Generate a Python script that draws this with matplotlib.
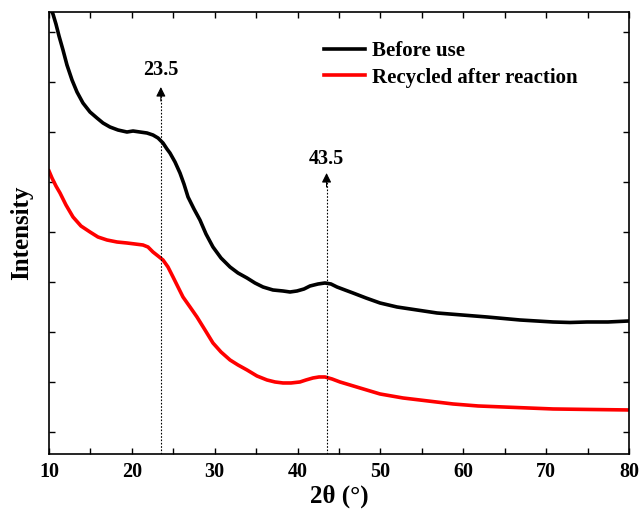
import matplotlib.pyplot as plt
from matplotlib.ticker import MultipleLocator

plt.rcParams['font.family'] = ['Liberation Serif', 'DejaVu Serif']
plt.rcParams['font.weight'] = 'bold'

# XRD patterns, intensity in arbitrary units
two_theta_before = [10.00, 10.24, 10.48, 10.84, 11.21, 11.69, 12.17, 12.78, 13.38, 14.10,
                    14.95, 15.79, 16.52, 17.36, 18.33, 19.41, 20.14, 20.98, 21.83, 22.55,
                    23.16, 23.76, 24.24, 24.60, 25.21, 25.81, 26.29, 26.78, 27.50, 28.22,
                    28.95, 29.79, 30.76, 31.85, 32.81, 33.90, 34.86, 35.83, 37.03, 38.24,
                    39.09, 39.93, 40.78, 41.50, 42.47, 43.31, 44.03, 44.76, 45.72, 46.69,
                    48.26, 49.95, 52.00, 54.41, 56.83, 59.84, 62.86, 66.84, 70.83, 72.88,
                    74.93, 77.47, 80.00]
intensity_before = [426, 422, 418, 408, 396, 382, 367, 352, 340, 329,
                    320, 314, 309, 305, 302, 300, 301, 300, 299, 297,
                    294, 289, 283, 279, 270, 259, 248, 235, 223, 212,
                    198, 185, 174, 165, 159, 154, 149, 145, 142, 141,
                    140, 141, 143, 146, 148, 149, 148, 145, 142, 139,
                    134, 129, 125, 122, 119, 117, 115, 112, 110, 109.5,
                    110, 110, 111]

two_theta_recycled = [10.00, 10.36, 10.84, 11.33, 12.05, 12.90, 13.86, 14.95, 15.91, 17.00,
                      18.21, 19.41, 20.38, 21.34, 21.95, 22.55, 23.16, 23.76, 24.36, 24.97,
                      25.57, 26.17, 27.02, 27.86, 28.83, 29.79, 30.76, 31.85, 32.81, 33.90,
                      35.10, 36.31, 37.28, 38.24, 39.21, 40.29, 41.02, 41.86, 42.59, 43.31,
                      44.16, 45.12, 46.33, 47.53, 48.74, 49.95, 52.72, 55.74, 58.76, 61.78,
                      64.79, 70.83, 75.29, 80.00]
intensity_recycled = [261, 254, 246, 239, 227, 215, 206, 200, 195, 192,
                      190, 189, 188, 187, 185, 180, 176, 172, 165, 155,
                      145, 135, 125, 115, 102, 89, 80, 72, 67, 62,
                      56, 52, 50, 49, 49, 50, 52, 54, 55, 55,
                      53, 50, 47, 44, 41, 38, 34, 31, 28, 26,
                      25, 23, 22.5, 22]

peaks = [23.5, 43.5]
peak_tips = [345, 259]
peak_labels = ['23.5', '43.5']
label_gaps = [7, 4]

fig = plt.figure(figsize=(6.43, 5.23), dpi=100)
ax = fig.add_axes([0.0762, 0.132, 0.902, 0.845])

ax.plot(two_theta_before, intensity_before, color='black', lw=2.6,
        solid_joinstyle='round', label='Before use')
ax.plot(two_theta_recycled, intensity_recycled, color='red', lw=2.6,
        solid_joinstyle='round', label='Recycled after reaction')

ymin, ymax = -22, 420
for x, tip, lab, gap in zip(peaks, peak_tips, peak_labels, label_gaps):
    ax.plot([x, x], [ymin, tip - 8], color='black', lw=0.8, ls=(0, (1.5, 1.5)))
    ax.annotate('', xy=(x, tip), xytext=(x, tip - 14),
                arrowprops=dict(arrowstyle='-|>', color='black', lw=0.8,
                                mutation_scale=14, shrinkA=0, shrinkB=0))
    ax.text(x, tip + gap, lab, ha='center', va='bottom', fontsize=14.5,
            fontweight='bold')

ax.set_xlim(10, 80)
ax.set_ylim(ymin, ymax)
ax.xaxis.set_major_locator(MultipleLocator(10))
ax.xaxis.set_minor_locator(MultipleLocator(5))
ax.yaxis.set_major_locator(MultipleLocator(50))
ax.tick_params(which='both', direction='in', top=True, right=True, width=1.0, length=4)
ax.tick_params(axis='x', labelsize=14.5, pad=6)
ax.set_yticklabels([])
for lab in ax.get_xticklabels():
    lab.set_fontweight('bold')
for s in ax.spines.values():
    s.set_linewidth(1.2)

ax.set_xlabel('2θ (°)', fontsize=18, fontweight='bold', labelpad=2)
ax.set_ylabel('Intensity', fontsize=18, fontweight='bold', labelpad=8)

ax.legend(loc='upper right', frameon=False, handlelength=2.0,
          handletextpad=0.3, labelspacing=0.3, bbox_to_anchor=(0.943, 0.976),
          prop={'weight': 'bold', 'size': 15})

fig.savefig('out.png', dpi=100)
